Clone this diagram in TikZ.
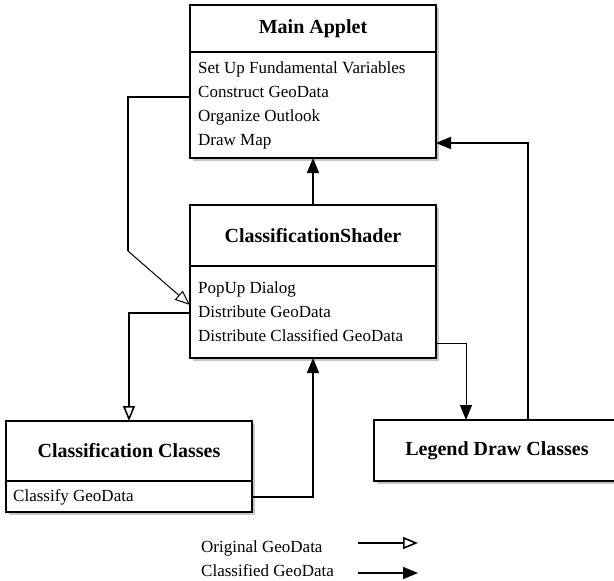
\documentclass[tikz,border=0pt]{standalone}
\usepackage{fontspec}
\setmainfont{Liberation Serif}
\usetikzlibrary{arrows.meta, positioning, backgrounds}

\tikzset{
  boxshadow/.style={fill=black!22},
  classhead/.style={draw, line width=1.8pt, fill=white, minimum width=246pt,
    inner sep=0pt, outer sep=0pt, font=\bfseries\fontsize{20}{24}\selectfont},
  classbody/.style={draw, line width=1.8pt, fill=white, minimum width=246pt,
    inner sep=0pt, outer sep=0pt},
  item/.style={anchor=west, inner sep=0pt, text height=12pt, text depth=4pt,
    font=\fontsize{17}{20}\selectfont},
  flow/.style={line width=1.6pt},
  thinflow/.style={line width=1pt},
  origtip/.style={-{Triangle[open, length=15pt, width=12pt]}},
  clstip/.style={-{Triangle[length=15pt, width=12pt]}}
}

\begin{document}
\begin{tikzpicture}[x=1pt, y=-1pt]
  \useasboundingbox (0,0) rectangle (614,581);
  \clip (0,0) rectangle (614,581);

  % Main Applet
  \node[classhead, minimum height=47pt, anchor=north west] (mainT) at (190,5) {Main Applet};
  \node[classbody, minimum height=106pt, anchor=north] (mainB) at (mainT.south) {};
  \node[item] (setup) at (198,69) {Set Up Fundamental Variables};
  \node[item] (construct) at (198,93) {Construct GeoData};
  \node[item] (outlook) at (198,117) {Organize Outlook};
  \node[item] (drawmap) at (198,141) {Draw Map};

  % ClassificationShader
  \node[classhead, minimum height=61pt, anchor=north west] (shaderT) at (190,205) {ClassificationShader};
  \node[classbody, minimum height=92pt, anchor=north] (shaderB) at (shaderT.south) {};
  \node[item] (popup) at (198,289) {PopUp Dialog};
  \node[item] (distribute) at (198,313) {Distribute GeoData};
  \node[item] (distcls) at (198,337) {Distribute Classified GeoData};

  % Classification Classes
  \node[classhead, minimum height=60pt, anchor=north west] (clsT) at (6,421) {Classification Classes};
  \node[classbody, minimum height=31pt, anchor=north] (clsB) at (clsT.south) {};
  \node[item] (classify) at (13,497) {Classify GeoData};

  % Legend Draw Classes
  \node[classhead, minimum height=61pt, anchor=north west] (legend) at (374,420) {Legend Draw Classes};

  % shadows
  \begin{scope}[on background layer]
    \foreach \cls in {main, shader, cls}
      \fill[boxshadow] ([xshift=3pt, yshift=-3pt]\cls T.north west) rectangle ([xshift=3pt, yshift=-3pt]\cls B.south east);
    \fill[boxshadow] ([xshift=3pt, yshift=-3pt]legend.north west) rectangle ([xshift=3pt, yshift=-3pt]legend.south east);
  \end{scope}

  % Original GeoData
  \draw[flow] ([yshift=-4pt]mainB.west |- construct.west) -| (128,251);
  \draw[thinflow, origtip] (128,251) -- ([yshift=8pt]shaderB.west |- distribute.west);
  \draw[flow, origtip] (shaderB.west |- distribute.west) -| (clsT.north);

  % Classified GeoData
  \draw[flow, clstip] (clsB.east |- classify.east) -| (shaderB.south);
  \draw[flow, clstip] (shaderT.north) -- (mainB.south);
  \draw[thinflow, clstip] ([yshift=-6pt]shaderB.east |- distcls.east) -| ([xshift=-31pt]legend.north);
  \draw[flow, clstip] ([xshift=31pt]legend.north) |- ([yshift=-2pt]mainB.east |- drawmap.east);

  % Key
  \node[item] (origkey) at (201,548) {Original GeoData};
  \node[item] (clskey) at (201,572) {Classified GeoData};
  \coordinate (origA) at (358,543);
  \coordinate (origB) at (418,543);
  \coordinate (clsA) at (358,573);
  \coordinate (clsB2) at (418,573);
  \draw[flow, origtip] (origA) -- (origB);
  \draw[flow, clstip] (clsA) -- (clsB2);
\end{tikzpicture}
\end{document}
